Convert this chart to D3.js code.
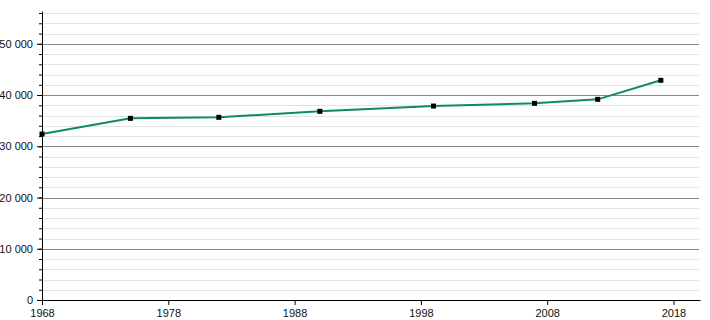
<!DOCTYPE html>
<html>
<head>
<meta charset="utf-8">
<script src="https://cdn.jsdelivr.net/npm/d3@7"></script>
<style>
    body { margin: 0; background: #fff; }
    svg text { font-family: "Liberation Sans", Arial, sans-serif; font-size: 11px; fill: #111; }
</style>
</head>
<body>
<div id="chart"></div>
<script>
// ── Data ─────────────────────────────────────────────────────────
const YEARS = [1968, 1975, 1982, 1990, 1999, 2007, 2012, 2017];
const POPULATION = [32390, 35450, 35650, 36820, 37850, 38380, 39160, 42870];
const X_TICKS = [1968, 1978, 1988, 1998, 2008, 2018];
const Y_TICKS = [0, 10000, 20000, 30000, 40000, 50000];
const Y_MINOR = d3.range(0, 56001, 2000);

// ── Dimensions ───────────────────────────────────────────────────
const W = 710, H = 320;
const margin = { top: 11, right: 10, bottom: 20, left: 42 };
const iW = W - margin.left - margin.right;
const iH = H - margin.top - margin.bottom;

const svg = d3.select("#chart").append("svg")
    .attr("width", W)
    .attr("height", H);

const g = svg.append("g")
    .attr("transform", `translate(${margin.left},${margin.top})`);

// ── Scales ───────────────────────────────────────────────────────
const x = d3.scaleLinear().domain([1968, 2020.1]).range([0, iW]);
const y = d3.scaleLinear().domain([0, 56400]).range([iH, 0]);

// ── Gridlines (minor light, major grey) ─────────────────────────
g.append("g").selectAll("line")
    .data(Y_MINOR.filter(v => v % 10000 !== 0))
    .join("line")
    .attr("x1", 0).attr("x2", iW - 1)
    .attr("y1", d => Math.round(y(d)) + 0.5).attr("y2", d => Math.round(y(d)) + 0.5)
    .style("stroke", "#e2e2e2");

g.append("g").selectAll("line")
    .data(Y_TICKS.filter(v => v > 0))
    .join("line")
    .attr("x1", 0).attr("x2", iW - 1)
    .attr("y1", d => Math.round(y(d)) + 0.5).attr("y2", d => Math.round(y(d)) + 0.5)
    .style("stroke", "#888");

// ── Axes ─────────────────────────────────────────────────────────
const fmt = v => d3.format(",")(v).replace(/,/g, " ");

const yMinorAxis = g.append("g")
    .call(d3.axisLeft(y).tickValues(Y_MINOR).tickSize(3).tickFormat(""));
yMinorAxis.select(".domain").remove();

const yAxis = g.append("g")
    .call(d3.axisLeft(y).tickValues(Y_TICKS).tickSize(5).tickSizeOuter(0).tickFormat(fmt));
yAxis.selectAll("text").attr("x", -9);

const xAxis = g.append("g")
    .attr("transform", `translate(0,${iH})`)
    .call(d3.axisBottom(x).tickValues(X_TICKS).tickSize(5).tickSizeOuter(0).tickFormat(d3.format("d")));
xAxis.selectAll("text").attr("y", 9);

svg.selectAll(".domain, .tick line").style("stroke", "#000");
svg.selectAll(".tick text").style("font-family", "'Liberation Sans', Arial, sans-serif").style("font-size", "11px").style("fill", "#111");

// ── Series ───────────────────────────────────────────────────────
const pts = YEARS.map((yr, i) => [yr, POPULATION[i]]);

g.append("path")
    .datum(pts)
    .attr("d", d3.line().x(d => x(d[0])).y(d => y(d[1])))
    .style("fill", "none")
    .style("stroke", "#0e8a6a")
    .style("stroke-width", 2);

g.append("g").selectAll("rect")
    .data(pts)
    .join("rect")
    .attr("x", d => x(d[0]) - 2.5)
    .attr("y", d => y(d[1]) - 2.5)
    .attr("width", 5)
    .attr("height", 5)
    .style("fill", "#000");
</script>
</body>
</html>
